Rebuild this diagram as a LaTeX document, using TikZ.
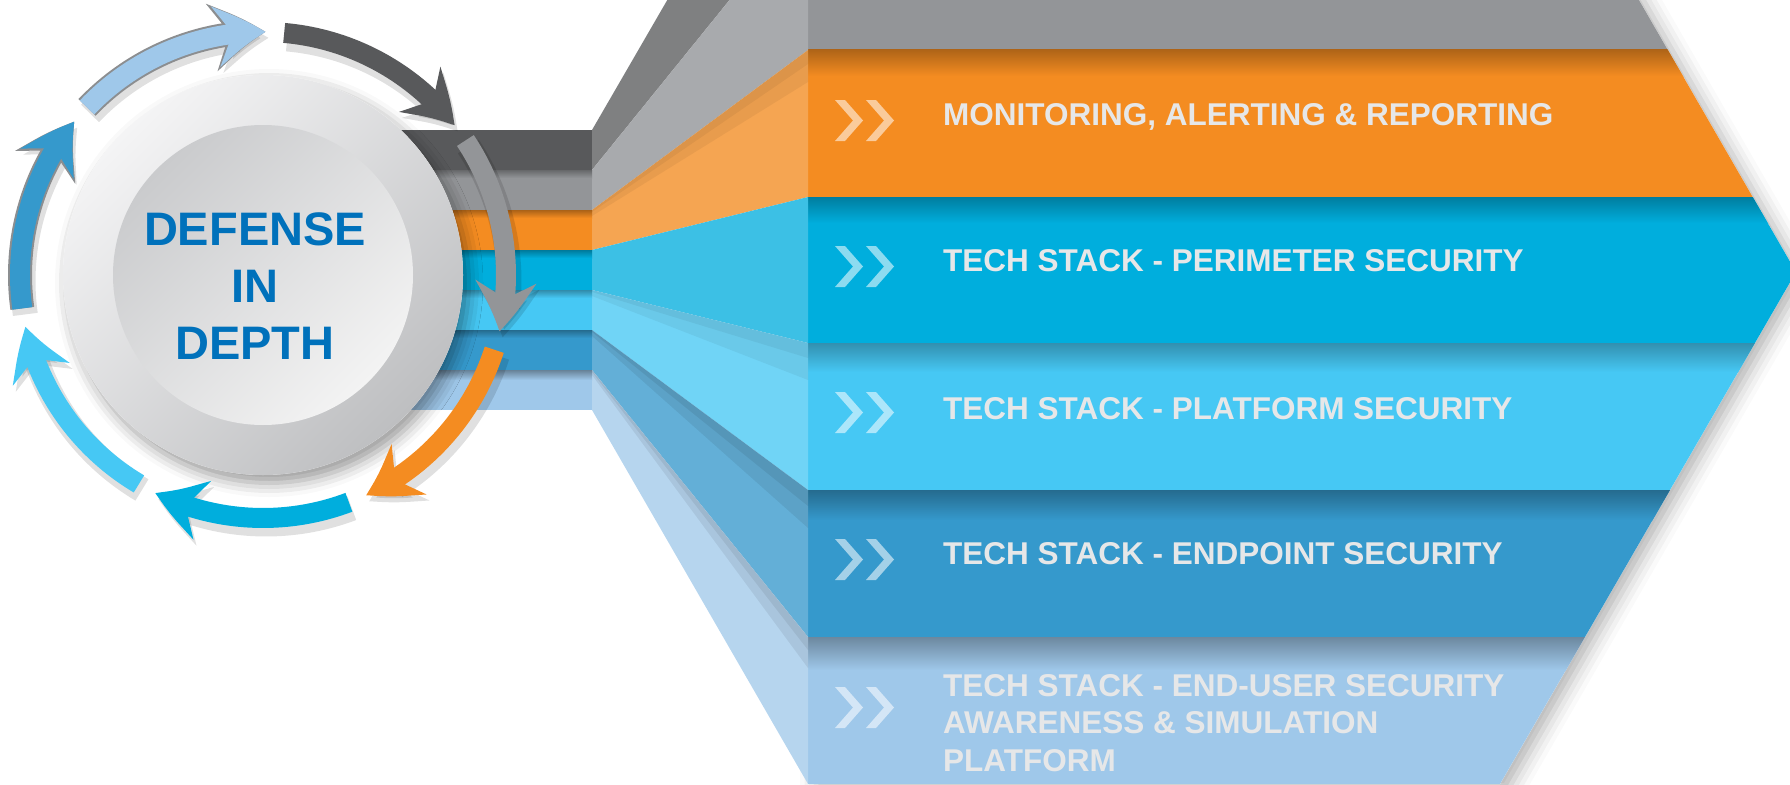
\documentclass[tikz,border=0pt]{standalone}
\usepackage{fontspec}
\setmainfont{Liberation Sans}
\usepackage{tikz}
\usetikzlibrary{positioning, arrows.meta, bending, shadows.blur}

\definecolor{dkgray}{HTML}{58595B}
\definecolor{mdgray}{HTML}{939598}
\definecolor{orng}{HTML}{F48C21}
\definecolor{blu}{HTML}{00AEDD}
\definecolor{ltblu}{HTML}{46C8F4}
\definecolor{mdblu}{HTML}{3599CC}
\definecolor{plblu}{HTML}{9FC8EA}
\definecolor{fanDk}{HTML}{7F8081}
\definecolor{fanGr}{HTML}{A8AAAD}
\definecolor{fanOr}{HTML}{F5A552}
\definecolor{fanBl}{HTML}{3CC0E5}
\definecolor{fanLt}{HTML}{70D4F6}
\definecolor{fanMd}{HTML}{63AFD7}
\definecolor{fanPl}{HTML}{B6D5EE}
\definecolor{txtgray}{HTML}{E6E7E8}
\definecolor{dfblue}{HTML}{0071BB}
\definecolor{edgegray}{HTML}{8C8E90}
\definecolor{discLt}{HTML}{F4F4F5}
\definecolor{discDk}{HTML}{BEBFC1}
\definecolor{hubLt}{HTML}{F3F3F3}
\definecolor{hubDk}{HTML}{CACBCD}

\begin{document}
\begin{tikzpicture}[
    x=1pt, y=-1pt,
    ringarrow/.style={line width=20pt, -{Stealth[length=50pt, width=60pt, inset=17pt, bend]}},
    ringshadow/.style={ringarrow, black, opacity=0.12, line width=25pt},
    ringedge/.style={line width=24pt, color=edgegray, -{Stealth[length=54pt, width=67pt, inset=18pt, bend]}},
    bandtext/.style={text=txtgray, font=\fontsize{31.5}{37.5}\selectfont\bfseries, anchor=base west, inner sep=0pt, align=left},
    deftext/.style={text=dfblue, font=\fontsize{47}{57}\selectfont\bfseries, anchor=north, inner sep=0pt, align=center}
]
    \useasboundingbox (0,0) rectangle (1790,784);
    \clip (0,0) rectangle (1790,784);
    \coordinate (ctr) at (263,275);

    % === Wide bands (arrow shaped) ===
    \fill[white, blur shadow={shadow xshift=8pt, shadow yshift=-6pt, shadow blur radius=16pt, shadow opacity=30}]
        (808,-97) -- (1583,-97) -- (1796,272) -- (1500,784) -- (808,784) -- cycle;
    \begin{scope}
        \clip (808,-97) -- (1583,-97) -- (1796,272) -- (1500,784) -- (808,784) -- cycle;
        \fill[mdgray] (808,-97) rectangle (1800,50);
        \fill[orng] (808,50) rectangle (1800,197);
        \fill[blu] (808,197) rectangle (1800,343);
        \fill[ltblu] (808,343) rectangle (1800,490);
        \fill[mdblu] (808,490) rectangle (1800,637);
        \fill[plblu] (808,637) rectangle (1800,784);
        % top shadows
        \shade[top color=orng!72!black, bottom color=orng] (808,50) rectangle (1800,76);
        \shade[top color=blu!72!black, bottom color=blu] (808,197) rectangle (1800,223);
        \shade[top color=ltblu!72!black, bottom color=ltblu] (808,343) rectangle (1800,372);
        \shade[top color=mdblu!70!black, bottom color=mdblu] (808,490) rectangle (1800,520);
        \shade[top color=plblu!68!black, bottom color=plblu] (808,637) rectangle (1800,670);
    \end{scope}

    % === Perspective fan ===
    \fill[fanDk] (592,130) -- (808,-243) -- (808,-97) -- (592,170) -- cycle;
    \fill[fanGr] (592,170) -- (808,-97) -- (808,50) -- (592,210) -- cycle;
    \fill[fanOr] (592,210) -- (808,50) -- (808,197) -- (592,250) -- cycle;
    \fill[fanBl] (592,250) -- (808,197) -- (808,343) -- (592,290) -- cycle;
    \fill[fanLt] (592,290) -- (808,343) -- (808,490) -- (592,330) -- cycle;
    \fill[fanMd] (592,330) -- (808,490) -- (808,637) -- (592,370) -- cycle;
    \fill[fanPl] (592,370) -- (808,637) -- (808,784) -- (592,410) -- cycle;
    % fan shadows
    \fill[black, opacity=0.05] (592,210) -- (808,50) -- (808,82) -- (592,216) -- cycle;
    \fill[black, opacity=0.05] (592,210) -- (808,50) -- (808,64) -- (592,212) -- cycle;
    \fill[black, opacity=0.05] (592,290) -- (808,343) -- (808,380) -- (592,296) -- cycle;
    \fill[black, opacity=0.05] (592,290) -- (808,343) -- (808,358) -- (592,292) -- cycle;
    \fill[black, opacity=0.07] (592,330) -- (808,490) -- (808,528) -- (592,336) -- cycle;
    \fill[black, opacity=0.07] (592,330) -- (808,490) -- (808,506) -- (592,332) -- cycle;
    \fill[black, opacity=0.07] (592,370) -- (808,637) -- (808,668) -- (592,375) -- cycle;
    \fill[black, opacity=0.07] (592,370) -- (808,637) -- (808,650) -- (592,372) -- cycle;

    % === Narrow stack ===
    \fill[dkgray] (360,130) rectangle (592,170);
    \fill[mdgray] (360,170) rectangle (592,210);
    \fill[orng] (360,210) rectangle (592,250);
    \fill[blu] (360,250) rectangle (592,290);
    \fill[ltblu] (360,290) rectangle (592,330);
    \fill[mdblu] (360,330) rectangle (592,370);
    \fill[plblu] (360,370) rectangle (592,410);
    \shade[top color=mdgray!70!black, bottom color=mdgray] (360,170) rectangle (592,178);
    \shade[top color=orng!70!black, bottom color=orng] (360,210) rectangle (592,218);
    \shade[top color=blu!70!black, bottom color=blu] (360,250) rectangle (592,258);
    \shade[top color=ltblu!70!black, bottom color=ltblu] (360,290) rectangle (592,298);
    \shade[top color=mdblu!70!black, bottom color=mdblu] (360,330) rectangle (592,338);
    \shade[top color=plblu!65!black, bottom color=plblu] (360,370) rectangle (592,380);

    % === Chevrons ===
    \fill[orng!45!white, shift={(835,100)}] (0,0) -- (10,0) -- (28,20.5) -- (10,41) -- (0,41) -- (18,20.5) -- cycle
        (31,0) -- (41,0) -- (59,20.5) -- (41,41) -- (31,41) -- (49,20.5) -- cycle;
    \fill[blu!45!white, shift={(835,246)}] (0,0) -- (10,0) -- (28,20.5) -- (10,41) -- (0,41) -- (18,20.5) -- cycle
        (31,0) -- (41,0) -- (59,20.5) -- (41,41) -- (31,41) -- (49,20.5) -- cycle;
    \fill[ltblu!45!white, shift={(835,392)}] (0,0) -- (10,0) -- (28,20.5) -- (10,41) -- (0,41) -- (18,20.5) -- cycle
        (31,0) -- (41,0) -- (59,20.5) -- (41,41) -- (31,41) -- (49,20.5) -- cycle;
    \fill[mdblu!45!white, shift={(835,539)}] (0,0) -- (10,0) -- (28,20.5) -- (10,41) -- (0,41) -- (18,20.5) -- cycle
        (31,0) -- (41,0) -- (59,20.5) -- (41,41) -- (31,41) -- (49,20.5) -- cycle;
    \fill[plblu!45!white, shift={(835,687)}] (0,0) -- (10,0) -- (28,20.5) -- (10,41) -- (0,41) -- (18,20.5) -- cycle
        (31,0) -- (41,0) -- (59,20.5) -- (41,41) -- (31,41) -- (49,20.5) -- cycle;

    % === Band labels ===
    \node[bandtext] (mon) at (943,125) {MONITORING, ALERTING \& REPORTING};
    \node[bandtext] (peri) at (943,271) {TECH STACK - PERIMETER SECURITY};
    \node[bandtext] (plat) at (943,419) {TECH STACK - PLATFORM SECURITY};
    \node[bandtext] (endp) at (943,564) {TECH STACK - ENDPOINT SECURITY};
    \node[bandtext, anchor=north west] (user) at (943,674) {TECH STACK - END-USER SECURITY\\AWARENESS \& SIMULATION\\PLATFORM};

    % === Disc ===
    \fill[white, blur shadow={shadow xshift=6pt, shadow yshift=-8pt, shadow blur radius=14pt, shadow opacity=40}]
        (ctr) circle[radius=200];
    \shade[top color=discLt, bottom color=discDk, shading angle=45] (ctr) circle[radius=200];
    \shade[top color=hubDk, bottom color=hubLt, shading angle=45] (ctr) circle[radius=150];
    \node[deftext] (title) at (255,212) {DEFENSE\\IN\\DEPTH};

    % === Ring arrows ===
    % shadows
    \draw[ringshadow] ([shift={(3,6)}]ctr) ++(-85:243) arc[start angle=-85, end angle=-38, radius=243];
    \draw[ringshadow] ([shift={(3,6)}]ctr) ++(-33.6:243) arc[start angle=-33.6, end angle=13.4, radius=243];
    \draw[ringshadow] ([shift={(3,6)}]ctr) ++(17.9:243) arc[start angle=17.9, end angle=64.9, radius=243];
    \draw[ringshadow] ([shift={(3,6)}]ctr) ++(69.3:243) arc[start angle=69.3, end angle=116.3, radius=243];
    \draw[ringshadow] ([shift={(3,6)}]ctr) ++(120.7:243) arc[start angle=120.7, end angle=167.7, radius=243];
    \draw[ringshadow] ([shift={(3,6)}]ctr) ++(172.1:243) arc[start angle=172.1, end angle=219.1, radius=243];
    \draw[ringshadow] ([shift={(3,6)}]ctr) ++(223.6:243) arc[start angle=223.6, end angle=270.6, radius=243];
    % outlines
    \draw[ringedge] (ctr) ++(172.1:243) arc[start angle=172.1, end angle=219.1, radius=243];
    \draw[ringedge] (ctr) ++(223.6:243) arc[start angle=223.6, end angle=270.6, radius=243];
    % arrows
    \draw[ringarrow, dkgray] (ctr) ++(-85:243) arc[start angle=-85, end angle=-38, radius=243];
    \draw[ringarrow, mdgray] (ctr) ++(-33.6:243) arc[start angle=-33.6, end angle=13.4, radius=243];
    \draw[ringarrow, orng] (ctr) ++(17.9:243) arc[start angle=17.9, end angle=64.9, radius=243];
    \draw[ringarrow, blu] (ctr) ++(69.3:243) arc[start angle=69.3, end angle=116.3, radius=243];
    \draw[ringarrow, ltblu] (ctr) ++(120.7:243) arc[start angle=120.7, end angle=167.7, radius=243];
    \draw[ringarrow, mdblu] (ctr) ++(172.1:243) arc[start angle=172.1, end angle=219.1, radius=243];
    \draw[ringarrow, plblu] (ctr) ++(223.6:243) arc[start angle=223.6, end angle=270.6, radius=243];

\end{tikzpicture}
\end{document}
